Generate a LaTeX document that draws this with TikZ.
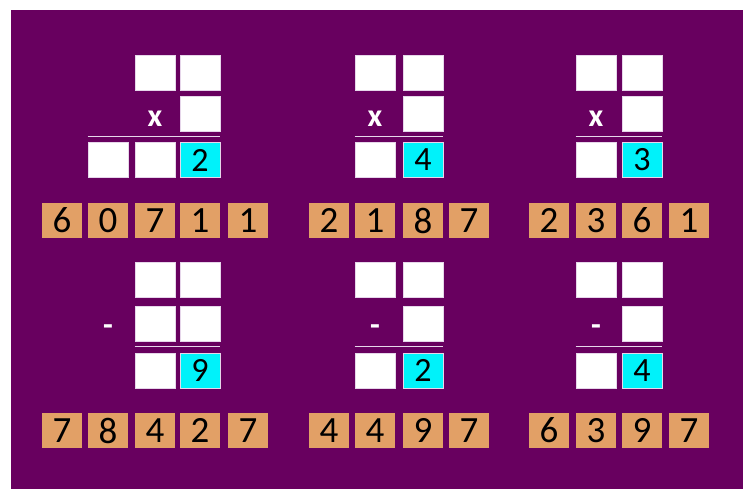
\documentclass[tikz,border=0pt]{standalone}
\usepackage{fontspec}
\setmainfont{Carlito}
\usetikzlibrary{positioning}
\definecolor{fundo}{HTML}{68005F}
\definecolor{laranja}{HTML}{E2A066}
\definecolor{ciano}{HTML}{00F2FA}
\definecolor{contorno}{HTML}{E6D6EA}
\tikzset{
  casa/.style={draw=contorno, fill=white, line width=0.8pt, minimum width=40pt,
               minimum height=35pt, inner sep=0pt},
  casaresp/.style={casa, fill=ciano, font=\fontsize{34}{34}\selectfont},
  ficha/.style={fill=laranja, minimum width=40pt, minimum height=35pt, inner sep=0pt,
               font=\fontsize{37}{37}\selectfont},
  sinal/.style={text=white, font=\fontsize{32}{32}\selectfont\bfseries, inner sep=0pt, anchor=base},
  traco/.style={draw=contorno, line width=1.5pt},
}

\begin{document}
\begin{tikzpicture}[x=1pt, y=-1pt]
        \useasboundingbox (0,0) rectangle (743,489);
        \fill[fundo] (11,10) rectangle (743,489);
        % ---------------- conta 1 (x) ----------------
        \node[casa] (a11) at (155,73) {};
        \node[casa] (a12) at (200,73) {};
        \node[sinal] (ax) at (155,127) {x};
        \node[casa] (a22) at (200,114) {};
        \node[casa] (a31) at (108,160) {};
        \node[casa] (a32) at (155,160) {};
        \node[casaresp] (a33) at (200,160) {2};
        \draw[traco] ([yshift=5.5pt]a31.north west) -- ([yshift=5.5pt]a33.north east);
        \foreach \x/\d [count=\i] in {62/6,108/0,155/7,200/1,248/1}
          {\node[ficha] (fa\i) at (\x,220.5) {\d};}
        % ---------------- conta 2 (x) ----------------
        \node[casa] (b11) at (375,73) {};
        \node[casa] (b12) at (423,73) {};
        \node[sinal] (bx) at (375,127) {x};
        \node[casa] (b22) at (423,114) {};
        \node[casa] (b31) at (375,160) {};
        \node[casaresp] (b32) at (423,160) {4};
        \draw[traco] ([yshift=5.5pt]b31.north west) -- ([yshift=5.5pt]b32.north east);
        \foreach \x/\d [count=\i] in {329/2,375/1,423/8,469/7}
          {\node[ficha] (fb\i) at (\x,220.5) {\d};}
        % ---------------- conta 3 (x) ----------------
        \node[casa] (c11) at (596,73) {};
        \node[casa] (c12) at (642,73) {};
        \node[sinal] (cx) at (596,127) {x};
        \node[casa] (c22) at (642,114) {};
        \node[casa] (c31) at (596,160) {};
        \node[casaresp] (c32) at (642,160) {3};
        \draw[traco] ([yshift=5.5pt]c31.north west) -- ([yshift=5.5pt]c32.north east);
        \foreach \x/\d [count=\i] in {549/2,596/3,642/6,689/1}
          {\node[ficha] (fc\i) at (\x,220.5) {\d};}
        % ---------------- conta 4 (-) ----------------
        \node[casa] (d11) at (155,280) {};
        \node[casa] (d12) at (200,280) {};
        \node[sinal] (dm) at (108,335) {-};
        \node[casa] (d21) at (155,324) {};
        \node[casa] (d22) at (200,324) {};
        \node[casa] (d31) at (155,370.5) {};
        \node[casaresp] (d32) at (200,370.5) {9};
        \draw[traco] ([yshift=6pt]d31.north west) -- ([yshift=6pt]d32.north east);
        \foreach \x/\d [count=\i] in {62/7,108/8,155/4,200/2,248/7}
          {\node[ficha] (fd\i) at (\x,430.5) {\d};}
        % ---------------- conta 5 (-) ----------------
        \node[casa] (e11) at (375,280) {};
        \node[casa] (e12) at (423,280) {};
        \node[sinal] (em) at (375,335) {-};
        \node[casa] (e22) at (423,324) {};
        \node[casa] (e31) at (375,370.5) {};
        \node[casaresp] (e32) at (423,370.5) {2};
        \draw[traco] ([yshift=6pt]e31.north west) -- ([yshift=6pt]e32.north east);
        \foreach \x/\d [count=\i] in {329/4,375/4,423/9,469/7}
          {\node[ficha] (fe\i) at (\x,430.5) {\d};}
        % ---------------- conta 6 (-) ----------------
        \node[casa] (g11) at (596,280) {};
        \node[casa] (g12) at (642,280) {};
        \node[sinal] (gm) at (596,335) {-};
        \node[casa] (g22) at (642,324) {};
        \node[casa] (g31) at (596,370.5) {};
        \node[casaresp] (g32) at (642,370.5) {4};
        \draw[traco] ([yshift=6pt]g31.north west) -- ([yshift=6pt]g32.north east);
        \foreach \x/\d [count=\i] in {549/6,596/3,642/9,689/7}
          {\node[ficha] (fg\i) at (\x,430.5) {\d};}
    \end{tikzpicture}
\end{document}
